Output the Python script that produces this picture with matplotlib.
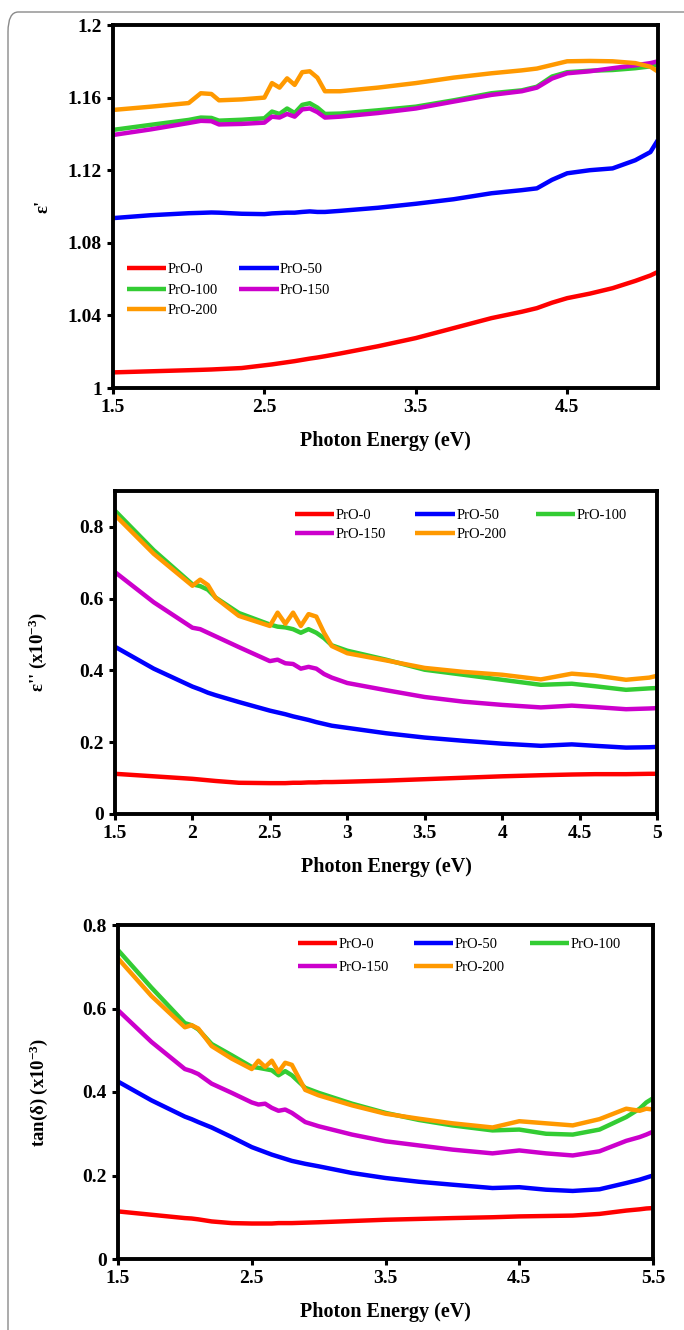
import numpy as np
import matplotlib
matplotlib.use("Agg")
import matplotlib.pyplot as plt
from matplotlib.patches import FancyBboxPatch

plt.rcParams['font.family'] = ['Liberation Serif', 'DejaVu Serif']
plt.rcParams['mathtext.default'] = 'regular'

# ===========================
# DATA
# ===========================
names = ["PrO-0", "PrO-50", "PrO-100", "PrO-150", "PrO-200"]
colors = ["#ff0000", "#0000ff", "#33cc33", "#cc00cc", "#ff9900"]

# panel 1 : real part eps'
x1 = [1.5, 1.75, 2.0, 2.08, 2.15, 2.2, 2.35, 2.5, 2.55, 2.6, 2.65, 2.7, 2.75, 2.8, 2.85,
      2.9, 3.0, 3.25, 3.5, 3.75, 4.0, 4.2, 4.3, 4.4, 4.5, 4.65, 4.8, 4.95, 5.05, 5.1]
eps1_0 = [1.0086, 1.0092, 1.0098, 1.0100, 1.0102, 1.0104, 1.0110, 1.0125, 1.0130, 1.0136,
          1.0142, 1.0148, 1.0155, 1.0162, 1.0168, 1.0175, 1.019, 1.023, 1.0275, 1.033,
          1.0385, 1.042, 1.044, 1.047, 1.0495, 1.052, 1.055, 1.059, 1.062, 1.064]
eps1_50 = [1.0936, 1.0952, 1.0963, 1.0965, 1.0967, 1.0966, 1.0960, 1.0958, 1.0962, 1.0964,
           1.0966, 1.0966, 1.0970, 1.0973, 1.0970, 1.0970, 1.0976, 1.0993, 1.1015, 1.104,
           1.1073, 1.109, 1.110, 1.1147, 1.1183, 1.120, 1.121, 1.1255, 1.130, 1.1367]
eps1_100 = [1.1422, 1.145, 1.1477, 1.1490, 1.1488, 1.1473, 1.1478, 1.1486, 1.1523, 1.1510,
            1.1540, 1.1515, 1.1560, 1.1569, 1.1545, 1.1510, 1.1512, 1.153, 1.155, 1.1585,
            1.1624, 1.164, 1.166, 1.1716, 1.174, 1.1748, 1.1752, 1.1762, 1.1772, 1.178]
eps1_150 = [1.1394, 1.1425, 1.146, 1.1472, 1.1470, 1.1452, 1.1455, 1.1462, 1.1495, 1.1490,
            1.1510, 1.1495, 1.1535, 1.1540, 1.1520, 1.1490, 1.1495, 1.1515, 1.154, 1.1578,
            1.1615, 1.1635, 1.1655, 1.1705, 1.1734, 1.1745, 1.1762, 1.1778, 1.1790, 1.180]
eps1_200 = [1.1532, 1.155, 1.157, 1.1624, 1.1620, 1.1585, 1.159, 1.160, 1.168, 1.1655,
            1.1706, 1.1670, 1.1740, 1.1745, 1.1710, 1.1635, 1.1635, 1.1655, 1.168, 1.171,
            1.1734, 1.175, 1.176, 1.178, 1.180, 1.1802, 1.1800, 1.179, 1.177, 1.1743]

# panel 2 : imaginary part eps'' (x1e-3)
x2 = [1.5, 1.75, 2.0, 2.05, 2.1, 2.15, 2.3, 2.5, 2.55, 2.6, 2.65, 2.7, 2.75, 2.8, 2.85,
      2.9, 3.0, 3.25, 3.5, 3.75, 4.0, 4.25, 4.45, 4.6, 4.8, 4.95, 5.0]
eps2_0 = [0.112, 0.105, 0.098, 0.096, 0.094, 0.092, 0.087, 0.086, 0.086, 0.086, 0.087, 0.087,
          0.088, 0.088, 0.089, 0.089, 0.090, 0.093, 0.097, 0.101, 0.105, 0.108, 0.110, 0.111,
          0.111, 0.112, 0.112]
eps2_50 = [0.466, 0.405, 0.355, 0.347, 0.338, 0.331, 0.312, 0.288, 0.283, 0.278, 0.272, 0.267,
           0.262, 0.256, 0.251, 0.246, 0.240, 0.225, 0.213, 0.204, 0.196, 0.190, 0.194, 0.190,
           0.185, 0.186, 0.187]
eps2_100 = [0.845, 0.735, 0.640, 0.635, 0.625, 0.603, 0.560, 0.528, 0.522, 0.520, 0.515, 0.505,
            0.515, 0.505, 0.490, 0.470, 0.455, 0.430, 0.402, 0.388, 0.374, 0.360, 0.363, 0.356,
            0.346, 0.350, 0.351]
eps2_150 = [0.674, 0.590, 0.519, 0.515, 0.505, 0.495, 0.465, 0.426, 0.430, 0.420, 0.418, 0.405,
            0.410, 0.405, 0.390, 0.380, 0.365, 0.345, 0.326, 0.313, 0.304, 0.297, 0.302, 0.298,
            0.292, 0.294, 0.295]
eps2_200 = [0.833, 0.725, 0.636, 0.653, 0.638, 0.602, 0.552, 0.524, 0.561, 0.530, 0.561, 0.524,
            0.557, 0.550, 0.505, 0.468, 0.448, 0.428, 0.407, 0.396, 0.388, 0.375, 0.391, 0.386,
            0.374, 0.380, 0.385]

# panel 3 : tan(delta) (x1e-3)
x3 = [1.5, 1.75, 2.0, 2.05, 2.1, 2.2, 2.35, 2.5, 2.55, 2.6, 2.65, 2.7, 2.75, 2.8, 2.9, 3.0,
      3.25, 3.5, 3.75, 4.0, 4.3, 4.5, 4.7, 4.9, 5.1, 5.3, 5.4, 5.45, 5.5]
tan_0 = [0.114, 0.106, 0.098, 0.097, 0.095, 0.090, 0.086, 0.085, 0.085, 0.085, 0.085, 0.086,
         0.086, 0.086, 0.087, 0.088, 0.091, 0.094, 0.096, 0.098, 0.100, 0.102, 0.103, 0.104,
         0.108, 0.116, 0.119, 0.121, 0.122]
tan_50 = [0.425, 0.380, 0.341, 0.335, 0.328, 0.315, 0.292, 0.268, 0.262, 0.256, 0.250, 0.245,
          0.240, 0.235, 0.228, 0.222, 0.206, 0.194, 0.185, 0.178, 0.170, 0.172, 0.166, 0.163,
          0.167, 0.182, 0.190, 0.195, 0.200]
tan_100 = [0.740, 0.650, 0.565, 0.560, 0.550, 0.515, 0.488, 0.460, 0.458, 0.455, 0.452, 0.440,
           0.450, 0.440, 0.410, 0.398, 0.372, 0.350, 0.333, 0.320, 0.308, 0.310, 0.300, 0.298,
           0.310, 0.340, 0.360, 0.375, 0.385]
tan_150 = [0.596, 0.520, 0.455, 0.450, 0.443, 0.420, 0.398, 0.375, 0.370, 0.372, 0.362, 0.355,
           0.358, 0.350, 0.328, 0.318, 0.298, 0.282, 0.272, 0.262, 0.253, 0.260, 0.253, 0.248,
           0.258, 0.283, 0.292, 0.298, 0.305]
tan_200 = [0.720, 0.630, 0.555, 0.560, 0.552, 0.510, 0.480, 0.455, 0.475, 0.460, 0.475, 0.448,
           0.470, 0.465, 0.405, 0.392, 0.368, 0.348, 0.336, 0.325, 0.315, 0.330, 0.325, 0.320,
           0.335, 0.360, 0.355, 0.360, 0.358]

# ===========================
# FIGURE
# ===========================
W, H = 684, 1330
fig = plt.figure(figsize=(W / 100, H / 100), dpi=100)

# rounded frame around the whole figure
frame = FancyBboxPatch((8 / W, 1 - 1360 / H), 700 / W, 1348 / H,
                       boxstyle="round,pad=0,rounding_size=0.015",
                       transform=fig.transFigure, fill=False,
                       edgecolor="#8a8a8a", linewidth=1.0)
fig.patches.append(frame)


def px_axes(left, top, right, bottom):
    return fig.add_axes([left / W, 1 - bottom / H, (right - left) / W, (bottom - top) / H])


def style(ax, xlim, ylim, xticks, xlabels, yticks, ylabels, ylabel, ylab_x):
    ax.set_xlim(*xlim)
    ax.set_ylim(*ylim)
    ax.set_xticks(xticks)
    ax.set_xticklabels(xlabels)
    ax.set_yticks(yticks)
    ax.set_yticklabels(ylabels)
    for s in ax.spines.values():
        s.set_linewidth(2.8)
    ax.tick_params(direction="out", length=4, width=2.2, labelsize=14, pad=4)
    for t in ax.get_xticklabels() + ax.get_yticklabels():
        t.set_fontweight("bold")
    ax.set_xlabel("Photon Energy (eV)", fontsize=14.5, fontweight="bold", labelpad=11)
    ax.set_ylabel(ylabel, fontsize=13.5, fontweight="bold")
    ax.yaxis.set_label_coords(ylab_x, 0.5)


def draw(ax, x, series):
    lines = []
    for y, c, n in zip(series, colors, names):
        ln, = ax.plot(x, y, color=c, lw=3.2, label=n, solid_capstyle="butt")
        lines.append(ln)
    return lines


leg_kw = dict(frameon=False, loc="upper left", bbox_transform=fig.transFigure,
              borderpad=0, borderaxespad=0, fontsize=10.5, handlelength=2.7,
              handletextpad=0.1)

# panel 1
ax1 = px_axes(113, 25, 658, 388)
l1 = draw(ax1, x1, [eps1_0, eps1_50, eps1_100, eps1_150, eps1_200])
style(ax1, (1.5, 5.1), (1.0, 1.2), [1.5, 2.5, 3.5, 4.5], ["1.5", "2.5", "3.5", "4.5"],
      [1.0, 1.04, 1.08, 1.12, 1.16, 1.2], ["1", "1.04", "1.08", "1.12", "1.16", "1.2"], "ε'",
      (52 - 113) / 545)
order = [0, 2, 4, 1, 3]
ax1.legend([l1[i] for i in order], [names[i] for i in order], ncol=2,
           bbox_to_anchor=(127 / W, 1 - 263 / H), columnspacing=1.45, labelspacing=0.5,
           **leg_kw)

# panel 2
ax2 = px_axes(115, 491, 657, 814)
l2 = draw(ax2, x2, [eps2_0, eps2_50, eps2_100, eps2_150, eps2_200])
style(ax2, (1.5, 5.0), (0, 0.9), [1.5, 2, 2.5, 3, 3.5, 4, 4.5, 5],
      ["1.5", "2", "2.5", "3", "3.5", "4", "4.5", "5"],
      [0, 0.2, 0.4, 0.6, 0.8], ["0", "0.2", "0.4", "0.6", "0.8"], "ε'' (x10$^{-3}$)",
      (49 - 115) / 542)
order = [0, 3, 1, 4, 2]
ax2.legend([l2[i] for i in order], [names[i] for i in order], ncol=3,
           bbox_to_anchor=(295 / W, 1 - 509 / H), columnspacing=2.0, labelspacing=0.36,
           **leg_kw)

# panel 3
ax3 = px_axes(118, 925, 653, 1259)
l3 = draw(ax3, x3, [tan_0, tan_50, tan_100, tan_150, tan_200])
style(ax3, (1.5, 5.5), (0, 0.8), [1.5, 2.5, 3.5, 4.5, 5.5], ["1.5", "2.5", "3.5", "4.5", "5.5"],
      [0, 0.2, 0.4, 0.6, 0.8], ["0", "0.2", "0.4", "0.6", "0.8"], "tan(δ) (x10$^{-3}$)",
      (50 - 118) / 535)
ax3.legend([l3[i] for i in order], [names[i] for i in order], ncol=3,
           bbox_to_anchor=(298 / W, 1 - 938 / H), columnspacing=1.7, labelspacing=0.66,
           **leg_kw)

fig.savefig("out.png", dpi=100)
